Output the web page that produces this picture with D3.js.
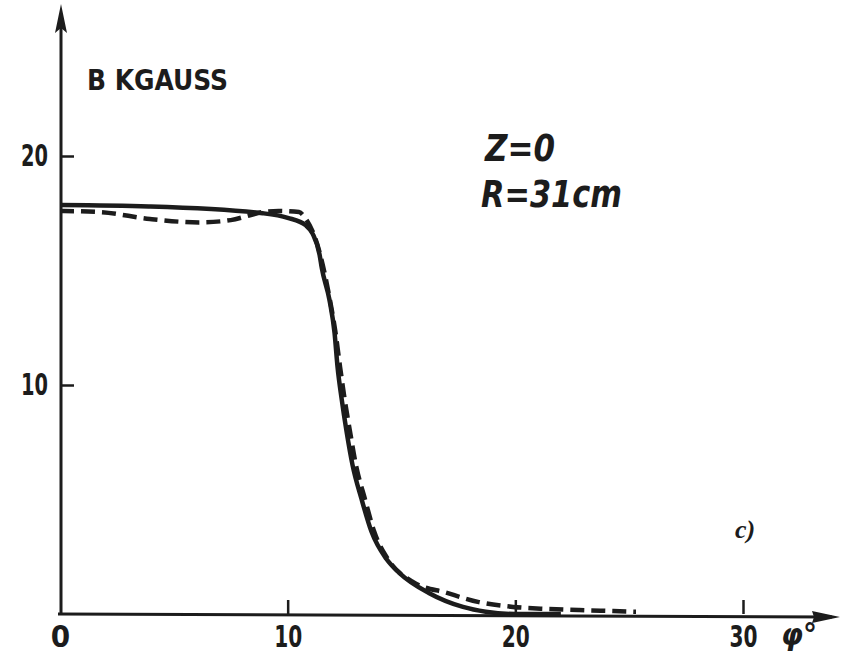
<!DOCTYPE html>
<html>
<head>
<meta charset="utf-8">
<script src="https://cdn.jsdelivr.net/npm/d3@7"></script>
<style>
  html, body { margin: 0; padding: 0; background: #fff; }
  svg { display: block; }
</style>
</head>
<body>
<svg id="chart" width="852" height="659"></svg>
<script>
// ---- data ----
const xTicks = [0, 10, 20, 30];
const yTicks = [10, 20];
const solidPhi = [0, 3.9, 8.9, 10, 10.8, 11.1, 11.4, 11.5, 11.84, 12.06, 12.19, 12.37, 12.59, 12.85, 13.25, 13.68, 14.34, 14.9, 16.2, 17.7, 18.7, 20, 22];
const solidB   = [17.86, 17.8, 17.5, 17.3, 16.97, 16.6, 15.7, 15.1, 13.7, 12.27, 10.8, 9.4, 7.95, 6.5, 5.0, 3.6, 2.4, 1.8, 0.92, 0.31, 0.1, 0.0, 0.0];
const dashPhi  = [0, 1.75, 3.95, 6.1, 7.5, 8.3, 8.9, 9.6, 10.5, 10.8, 11.1, 11.4, 11.84, 12.1, 12.3, 12.5, 12.75, 13.0, 13.4, 13.8, 14.4, 15.5, 17.0, 18.4, 19.9, 21.4, 22.8, 24.3, 25.3];
const dashB    = [17.6, 17.55, 17.25, 17.1, 17.2, 17.4, 17.55, 17.6, 17.55, 17.25, 16.7, 15.8, 13.8, 12.3, 10.8, 9.4, 7.9, 6.5, 5.0, 3.6, 2.4, 1.4, 0.92, 0.52, 0.31, 0.22, 0.17, 0.13, 0.1];
const yLabel = "B KGAUSS";
const note1 = "Z=0";
const note2 = "R=31cm";
const panelTag = "c)";
const xUnit = "φ°";

// ---- scales ----
const svg = d3.select("#chart");
const x = d3.scaleLinear().domain([0, 30]).range([60, 743]);
const y = d3.scaleLinear().domain([0, 20]).range([614, 156]);
const ink = "#1c1c1c";
const labelFont = "'DejaVu Sans Condensed', 'DejaVu Sans', sans-serif";

// ---- axes lines with arrows ----
svg.append("line")
  .attr("x1", x(0) - 2).attr("y1", y(0))
  .attr("x2", 832).attr("y2", y(0) + 3)
  .attr("stroke", ink).attr("stroke-width", 3);
svg.append("path")
  .attr("d", `M 840 ${y(0) + 3} L 812 ${y(0) - 3} L 814 ${y(0) + 3} L 812 ${y(0) + 9} Z`)
  .attr("fill", ink);
svg.append("line")
  .attr("x1", x(0) + 1).attr("y1", y(0) + 1)
  .attr("x2", x(0) + 1).attr("y2", 14)
  .attr("stroke", ink).attr("stroke-width", 3);
svg.append("path")
  .attr("d", `M ${x(0) + 1} 4 L ${x(0) - 5} 33 L ${x(0) + 1} 28 L ${x(0) + 7} 33 Z`)
  .attr("fill", ink);

// ---- x axis (ticks upward) ----
const gx = svg.append("g")
  .attr("transform", `translate(0,${y(0)})`)
  .call(d3.axisBottom(x).tickValues(xTicks).tickSize(-14).tickPadding(11).tickFormat(d3.format("d")));
gx.select(".domain").remove();
gx.selectAll(".tick line").attr("stroke", ink).attr("stroke-width", 2.5)
  .attr("display", d => d === 0 ? "none" : null);
gx.selectAll(".tick text")
  .attr("fill", ink)
  .style("font-family", labelFont)
  .style("font-weight", "bold")
  .style("font-size", "31px")
  .attr("textLength", d => d === 0 ? null : 28)
  .attr("lengthAdjust", "spacingAndGlyphs");

// ---- y axis (ticks to the right) ----
const gy = svg.append("g")
  .attr("transform", `translate(${x(0) + 1},0)`)
  .call(d3.axisLeft(y).tickValues(yTicks).tickSize(-13).tickPadding(13).tickFormat(d3.format("d")));
gy.select(".domain").remove();
gy.selectAll(".tick line").attr("stroke", ink).attr("stroke-width", 2.5);
gy.selectAll(".tick text")
  .attr("fill", ink)
  .style("font-family", labelFont)
  .style("font-weight", "bold")
  .style("font-size", "31px")
  .attr("textLength", 27)
  .attr("lengthAdjust", "spacingAndGlyphs");

// ---- curves ----
const line = d3.line()
  .x(d => x(d[0]))
  .y(d => y(d[1]))
  .curve(d3.curveMonotoneX);

const dashData = dashPhi.map((p, i) => [p, dashB[i]]);
const solidData = solidPhi.map((p, i) => [p, solidB[i]]);

svg.append("path")
  .datum(dashData)
  .attr("d", line)
  .attr("fill", "none")
  .attr("stroke", ink)
  .attr("stroke-width", 4.5)
  .attr("stroke-dasharray", "14,7");

svg.append("path")
  .datum(solidData)
  .attr("d", line)
  .attr("fill", "none")
  .attr("stroke", ink)
  .attr("stroke-width", 4.5)
  .attr("stroke-linejoin", "round");

// ---- texts ----
svg.append("text")
  .attr("x", 87).attr("y", 90)
  .text(yLabel)
  .attr("fill", ink)
  .style("font-family", labelFont)
  .style("font-weight", "bold")
  .style("font-size", "28px")
  .attr("textLength", 141)
  .attr("lengthAdjust", "spacingAndGlyphs");

svg.append("text")
  .attr("x", 485).attr("y", 161)
  .text(note1)
  .attr("fill", ink)
  .style("font-family", labelFont)
  .style("font-weight", "bold")
  .style("font-style", "italic")
  .style("font-size", "38px")
  .attr("textLength", 70)
  .attr("lengthAdjust", "spacingAndGlyphs");

svg.append("text")
  .attr("x", 481).attr("y", 207)
  .text(note2)
  .attr("fill", ink)
  .style("font-family", labelFont)
  .style("font-weight", "bold")
  .style("font-style", "italic")
  .style("font-size", "38px")
  .attr("textLength", 141)
  .attr("lengthAdjust", "spacingAndGlyphs");

svg.append("text")
  .attr("x", 735).attr("y", 538)
  .text(panelTag)
  .attr("fill", ink)
  .style("font-family", "'Liberation Serif', serif")
  .style("font-weight", "bold")
  .style("font-style", "italic")
  .style("font-size", "26px");

svg.append("text")
  .attr("x", 781).attr("y", 645)
  .text(xUnit)
  .attr("fill", ink)
  .style("font-family", labelFont)
  .style("font-weight", "bold")
  .style("font-style", "italic")
  .style("font-size", "30px")
  .attr("textLength", 36)
  .attr("lengthAdjust", "spacingAndGlyphs");
</script>
</body>
</html>
